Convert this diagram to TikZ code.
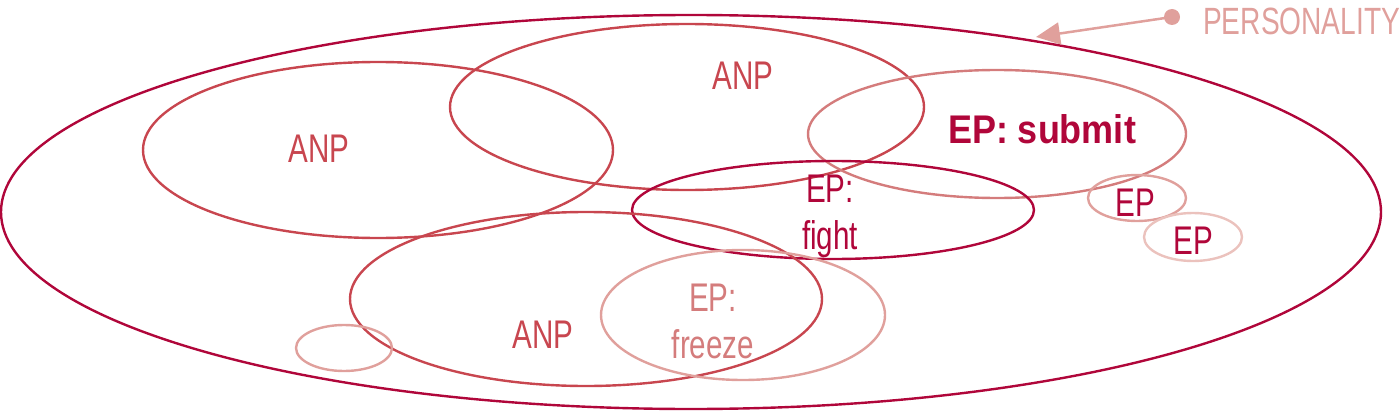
\documentclass[tikz,border=0pt]{standalone}
\usepackage{fontspec}
\setmainfont{Liberation Sans}[FakeStretch=0.74]
\newfontfamily\boldcond{Liberation Sans}[FakeStretch=0.9]
\usetikzlibrary{arrows.meta,shapes.geometric}
\definecolor{dred}{HTML}{B0063A}
\definecolor{mred}{HTML}{C8464F}
\definecolor{lred}{HTML}{D47C7C}
\definecolor{pred}{HTML}{E0A09C}
\definecolor{vred}{HTML}{EBC2BD}
\begin{document}
\begin{tikzpicture}[x=1pt,y=-1pt,
  ell/.style={draw=#1,line width=2.4pt},
  lbl/.style={text=#1,font=\fontsize{40}{47}\selectfont,align=center,inner sep=0pt},
]
\useasboundingbox (0,0) rectangle (1400,412);
% outer
\draw[ell=dred] (691,212) ellipse [x radius=690, y radius=197];
% ellipses
\draw[ell=mred] (378,150) ellipse [x radius=235, y radius=88];
\draw[ell=mred] (687,107) ellipse [x radius=237, y radius=83];
\draw[ell=lred] (997,134) ellipse [x radius=189, y radius=64];
\draw[ell=dred] (833,210) ellipse [x radius=201, y radius=49];
\draw[ell=mred] (586,299) ellipse [x radius=236, y radius=87];
\draw[ell=pred] (743,315) ellipse [x radius=142, y radius=65];
\draw[ell=pred] (1137,198) ellipse [x radius=49, y radius=23];
\draw[ell=vred] (1193,237) ellipse [x radius=49, y radius=24];
\draw[ell=pred] (344,348) ellipse [x radius=48, y radius=23];
% labels
\node[lbl=mred] (anp1) at (319,149) {ANP};
\node[lbl=mred] (anp2) at (743,76) {ANP};
\node[lbl=mred] (anp3) at (543,335) {ANP};
\node[lbl=dred,font=\boldcond\bfseries\fontsize{40}{47}\selectfont] (sub) at (1042,129) {EP: submit};
\node[lbl=dred] (fight) at (830,216) {EP:\\fight};
\node[lbl=lred] (freeze) at (713,321) {EP:\\freeze};
\node[lbl=dred] (ep1) at (1135,203) {EP};
\node[lbl=dred] (ep2) at (1193,241) {EP};
% personality label
\node[lbl=pred,anchor=west,font=\fontsize{38}{44}\selectfont] (pers) at (1203,21) {PERSONALITY};
\coordinate (dot) at (1172,17);
\coordinate (tip) at (1036,37);
\fill[pred] (dot) circle (8);
\draw[pred,line width=2.5pt,-{Triangle[length=24pt,width=22pt]}] (dot) -- (tip);
\end{tikzpicture}
\end{document}
